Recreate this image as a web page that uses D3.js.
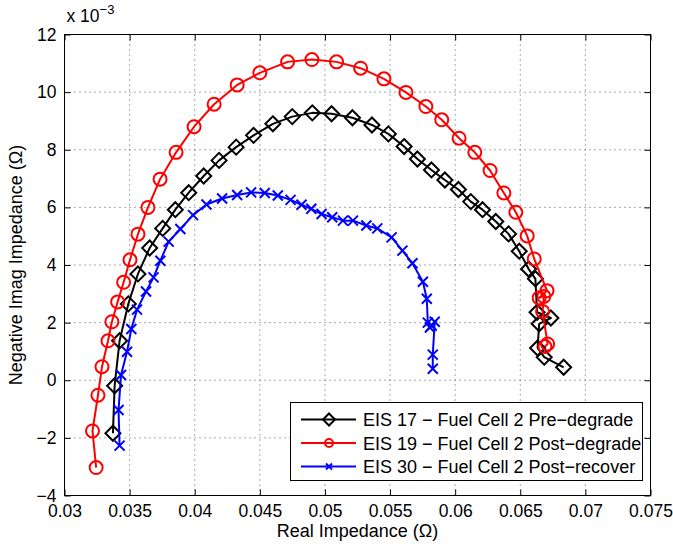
<!DOCTYPE html>
<html>
<head>
<meta charset="utf-8">
<script src="https://cdn.jsdelivr.net/npm/d3@7"></script>
<style>
  body { margin: 0; background: #fff; }
  svg { font-family: "Liberation Sans", Arial, sans-serif; }
  .grid line { stroke: #555; stroke-dasharray: 1 4; stroke-width: 1; }
</style>
</head>
<body>
<script>
// EIS 17 - pre-degrade (black diamonds)
const preX = [0.03372, 0.03385, 0.03423, 0.03490, 0.03564, 0.03654, 0.03754, 0.03851, 0.03954, 0.04069,
  0.04187, 0.04318, 0.04452, 0.04600, 0.04749, 0.04903, 0.05051, 0.05211, 0.05361, 0.05487,
  0.05608, 0.05710, 0.05818, 0.05921, 0.06025, 0.06120, 0.06210, 0.06312, 0.06410, 0.06492,
  0.06564, 0.06616, 0.06629, 0.06735, 0.06645, 0.06633, 0.06684, 0.06833]
const preY = [-1.84, -0.19, 1.37, 2.65, 3.69, 4.59, 5.27, 5.92, 6.51, 7.09,
  7.63, 8.09, 8.50, 8.90, 9.15, 9.28, 9.25, 9.11, 8.86, 8.55,
  8.11, 7.68, 7.30, 6.95, 6.62, 6.20, 5.92, 5.51, 5.08, 4.48,
  3.86, 3.52, 2.36, 2.16, 1.96, 1.12, 0.80, 0.45]

// EIS 19 - post-degrade (red circles)
const postX = [0.03243, 0.03215, 0.03257, 0.03288, 0.03334, 0.03364, 0.03408, 0.03454, 0.03503, 0.03564,
  0.03641, 0.03734, 0.03857, 0.03995, 0.04149, 0.04326, 0.04500, 0.04713, 0.04900, 0.05089,
  0.05274, 0.05453, 0.05622, 0.05775, 0.05897, 0.06030, 0.06151, 0.06268, 0.06374, 0.06466,
  0.06553, 0.06607, 0.06705, 0.06645, 0.06681, 0.06671, 0.06710, 0.06689]
const postY = [-3.03, -1.76, -0.52, 0.47, 1.37, 2.03, 2.72, 3.40, 4.18, 5.07,
  6.00, 6.98, 7.91, 8.80, 9.58, 10.25, 10.67, 11.05, 11.13, 11.05,
  10.83, 10.46, 9.99, 9.50, 9.04, 8.40, 7.91, 7.28, 6.50, 5.83,
  5.01, 4.21, 3.11, 2.86, 2.91, 2.39, 1.26, 1.17]

// EIS 30 - post-recover (blue crosses)
const recX = [0.03423, 0.03415, 0.03434, 0.03480, 0.03513, 0.03557, 0.03626, 0.03684, 0.03736, 0.03800,
  0.03890, 0.03987, 0.04090, 0.04210, 0.04326, 0.04433, 0.04538, 0.04638, 0.04736, 0.04820,
  0.04895, 0.04974, 0.05056, 0.05138, 0.05215, 0.05318, 0.05402, 0.05512, 0.05595, 0.05672,
  0.05752, 0.05782, 0.05790, 0.05806, 0.05820, 0.05843, 0.05828, 0.05828]
const recY = [-2.27, -1.03, 0.18, 0.99, 1.78, 2.45, 3.08, 3.57, 4.15, 4.81,
  5.25, 5.73, 6.10, 6.31, 6.43, 6.52, 6.50, 6.41, 6.26, 6.09,
  5.95, 5.77, 5.66, 5.54, 5.54, 5.37, 5.27, 4.96, 4.50, 4.06,
  3.42, 2.83, 2.00, 1.83, 1.90, 2.03, 0.89, 0.40]

const xTicks = [0.03, 0.035, 0.04, 0.045, 0.05, 0.055, 0.06, 0.065, 0.07, 0.075]
const yTicks = [-4, -2, 0, 2, 4, 6, 8, 10, 12]

const series = [
  { name: "EIS 17 \u2212 Fuel Cell 2 Pre\u2212degrade", xs: preX, ys: preY, color: "#000000", marker: "diamond" },
  { name: "EIS 19 \u2212 Fuel Cell 2 Post\u2212degrade", xs: postX, ys: postY, color: "#ff0000", marker: "circle" },
  { name: "EIS 30 \u2212 Fuel Cell 2 Post\u2212recover", xs: recX, ys: recY, color: "#0000ff", marker: "cross" }
]

const width = 673, height = 544
const pLeft = 64.5, pRight = 650.5, pTop = 34.5, pBottom = 495.5
const fs = 17.5

const svg = d3.select("body").append("svg")
  .attr("width", width).attr("height", height)

const x = d3.scaleLinear().domain([0.03, 0.075]).range([pLeft, pRight])
const y = d3.scaleLinear().domain([-4, 12]).range([pBottom, pTop])

// grid
let grid = svg.append("g").attr("class", "grid")
grid.selectAll(".gx").data(xTicks.slice(1, -1)).enter().append("line")
  .attr("x1", d => x(d)).attr("x2", d => x(d))
  .attr("y1", pTop).attr("y2", pBottom)
grid.selectAll(".gy").data(yTicks.slice(1, -1)).enter().append("line")
  .attr("y1", d => y(d)).attr("y2", d => y(d))
  .attr("x1", pLeft).attr("x2", pRight)

// axes (MATLAB style box, ticks inward)
const tickLen = 6
function styleAxis(g) {
  g.select(".domain").remove()
  g.selectAll(".tick line").attr("stroke", "#000")
  g.selectAll("text").attr("font-size", fs).attr("fill", "#000")
}
svg.append("g").attr("transform", `translate(0,${pBottom})`)
  .call(d3.axisBottom(x).tickValues(xTicks).tickSizeInner(-tickLen).tickSizeOuter(0)
    .tickFormat(d3.format("")).tickPadding(9))
  .call(styleAxis)
svg.append("g").attr("transform", `translate(0,${pTop})`)
  .call(d3.axisTop(x).tickValues(xTicks).tickSizeInner(-tickLen).tickSizeOuter(0).tickFormat(""))
  .call(styleAxis)
svg.append("g").attr("transform", `translate(${pLeft},0)`)
  .call(d3.axisLeft(y).tickValues(yTicks).tickSizeInner(-tickLen).tickSizeOuter(0).tickPadding(8))
  .call(styleAxis)
svg.append("g").attr("transform", `translate(${pRight},0)`)
  .call(d3.axisRight(y).tickValues(yTicks).tickSizeInner(-tickLen).tickSizeOuter(0).tickFormat(""))
  .call(styleAxis)

svg.append("rect")
  .attr("x", pLeft).attr("y", pTop)
  .attr("width", pRight - pLeft).attr("height", pBottom - pTop)
  .attr("fill", "none").attr("stroke", "#000").attr("stroke-width", 1)

// exponent label
let expLabel = svg.append("text").attr("x", pLeft + 2).attr("y", pTop - 13)
  .attr("font-size", fs)
expLabel.append("tspan").text("x 10")
expLabel.append("tspan").attr("dy", -8).attr("font-size", 13).text("\u22123")

// axis titles
svg.append("text").attr("x", (pLeft + pRight) / 2).attr("y", 537)
  .attr("text-anchor", "middle").attr("font-size", 18)
  .text("Real Impedance (\u03A9)")
svg.append("text")
  .attr("transform", `translate(22,${(pTop + pBottom) / 2}) rotate(-90)`)
  .attr("text-anchor", "middle").attr("font-size", 18)
  .text("Negative Imag Impedance (\u03A9)")

function drawMarker(g, type, color) {
  if (type === "circle") {
    g.append("circle").attr("r", 6.5).attr("fill", "none")
      .attr("stroke", color).attr("stroke-width", 2)
  } else if (type === "diamond") {
    g.append("path").attr("d", "M0,-7.5L7.5,0L0,7.5L-7.5,0Z").attr("fill", "none")
      .attr("stroke", color).attr("stroke-width", 2)
  } else {
    g.append("path").attr("d", "M-5,-5L5,5M-5,5L5,-5")
      .attr("stroke", color).attr("stroke-width", 2)
  }
}

const line = d3.line().x(d => x(d[0])).y(d => y(d[1]))
const plot = svg.append("g")
series.forEach(s => {
  let pts = s.xs.map((v, i) => [v, s.ys[i]])
  plot.append("path").datum(pts)
    .attr("d", line).attr("fill", "none")
    .attr("stroke", s.color).attr("stroke-width", 2)
    .attr("stroke-linejoin", "round")
  plot.selectAll(null).data(pts).enter().append("g")
    .attr("transform", d => `translate(${x(d[0])},${y(d[1])})`)
    .each(function () { drawMarker(d3.select(this), s.marker, s.color) })
})

// legend
const lg = svg.append("g")
lg.append("rect").attr("x", 290.5).attr("y", 402.5).attr("width", 352).attr("height", 78)
  .attr("fill", "#fff").attr("stroke", "#000").attr("stroke-width", 1)
series.forEach((s, i) => {
  let ly = 419.5 + i * 23.5
  lg.append("line").attr("x1", 301).attr("x2", 356).attr("y1", ly).attr("y2", ly)
    .attr("stroke", s.color).attr("stroke-width", 2)
  let m = lg.append("g").attr("transform", `translate(329,${ly})`)
  if (s.marker === "circle") {
    m.append("circle").attr("r", 4).attr("fill", "none").attr("stroke", s.color).attr("stroke-width", 2)
  } else if (s.marker === "diamond") {
    m.append("path").attr("d", "M0,-6L6,0L0,6L-6,0Z").attr("fill", "none").attr("stroke", s.color).attr("stroke-width", 2)
  } else {
    m.append("path").attr("d", "M-3,-3L3,3M-3,3L3,-3").attr("stroke", s.color).attr("stroke-width", 2)
  }
  lg.append("text").attr("x", 363).attr("y", ly + 6.5).attr("font-size", 18).text(s.name)
})
</script>
</body>
</html>
